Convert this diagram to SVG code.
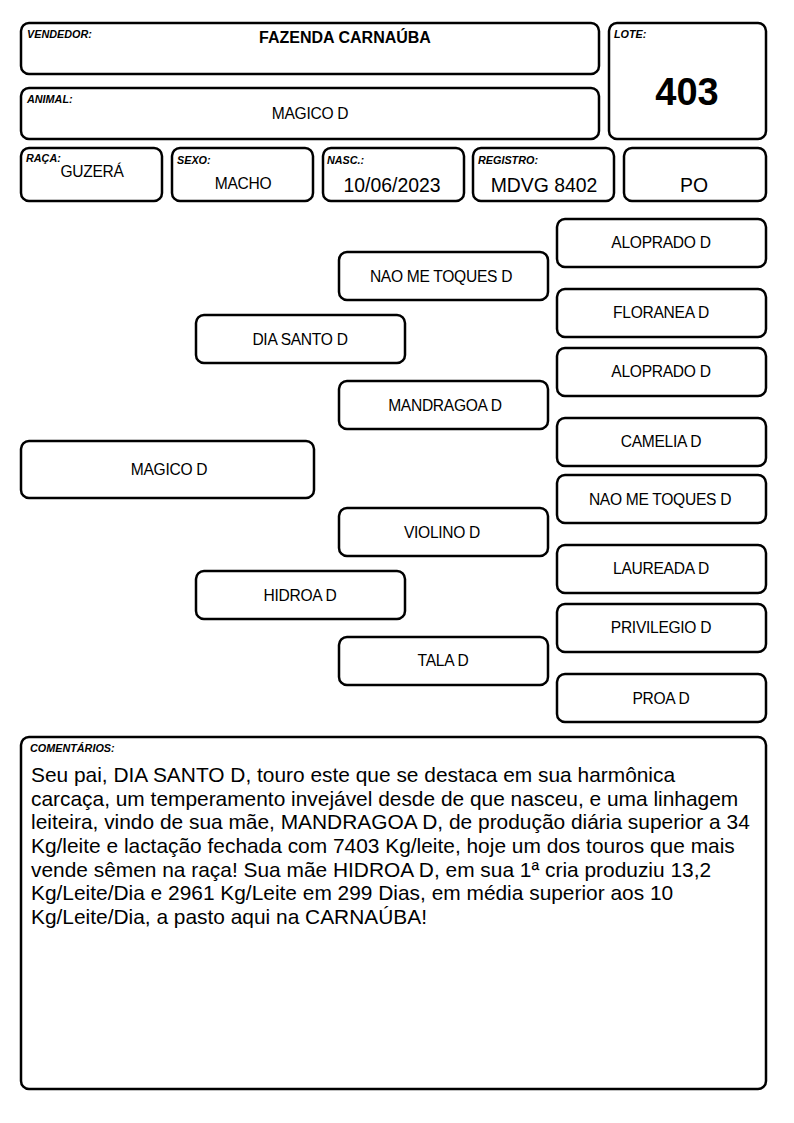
<svg xmlns="http://www.w3.org/2000/svg" width="794" height="1123" viewBox="0 0 794 1123">
<style>
.b{fill:#fff;stroke:#000;stroke-width:2.5}
.lbl{font-family:"Liberation Sans",Arial,sans-serif;font-size:10.8px;font-weight:bold;font-style:italic}
.t{font-family:"Liberation Sans",Arial,sans-serif;font-size:15.6px;text-anchor:middle;letter-spacing:-0.3px}
.v{font-family:"Liberation Sans",Arial,sans-serif;font-size:19.4px;text-anchor:middle}
.c{font-family:"Liberation Sans",Arial,sans-serif;font-size:20.9px}
</style>
<rect width="794" height="1123" fill="#fff"/>
<g id="vendedor"><rect class="b" x="21" y="23" width="578" height="51" rx="8"/><text class="lbl" x="27" y="38">VENDEDOR:</text><text x="345" y="43" font-family="Liberation Sans,Arial,sans-serif" font-size="16" font-weight="bold" text-anchor="middle">FAZENDA CARNAÚBA</text></g>
<g id="animal"><rect class="b" x="21" y="88" width="578" height="51" rx="8"/><text class="lbl" x="27" y="103">ANIMAL:</text><text class="t" x="310" y="119">MAGICO D</text></g>
<g id="lote"><rect class="b" x="609" y="23" width="157" height="116" rx="8"/><text class="lbl" x="614" y="38">LOTE:</text><text x="687" y="105" font-family="Liberation Sans,Arial,sans-serif" font-size="38" font-weight="bold" text-anchor="middle">403</text></g>
<g id="raca"><rect class="b" x="21" y="148" width="141" height="53" rx="8"/><text class="lbl" x="26" y="162">RAÇA:</text><text class="t" x="92" y="177">GUZERÁ</text></g>
<g id="sexo"><rect class="b" x="172" y="148" width="141" height="53" rx="8"/><text class="lbl" x="177" y="164">SEXO:</text><text class="t" x="243" y="189" font-size="14">MACHO</text></g>
<g id="nasc"><rect class="b" x="323" y="148" width="141" height="53" rx="8"/><text class="lbl" x="327" y="164">NASC.:</text><text class="v" x="392" y="192">10/06/2023</text></g>
<g id="registro"><rect class="b" x="473" y="148" width="141" height="53" rx="8"/><text class="lbl" x="478" y="164">REGISTRO:</text><text class="v" x="544" y="192">MDVG 8402</text></g>
<g id="po"><rect class="b" x="624" y="148" width="142" height="53" rx="8"/><text class="v" x="694" y="192">PO</text></g>
<g id="connectors"></g>
<g id="n-magico"><rect class="b" x="21" y="441" width="293" height="57" rx="8"/><text class="t" x="169" y="475">MAGICO D</text></g>
<g id="n-diasanto"><rect class="b" x="196" y="315" width="209" height="48" rx="8"/><text class="t" x="300" y="345">DIA SANTO D</text></g>
<g id="n-hidroa"><rect class="b" x="196" y="571" width="209" height="48" rx="8"/><text class="t" x="300" y="601">HIDROA D</text></g>
<g id="n-naome1"><rect class="b" x="339" y="252" width="209" height="48" rx="8"/><text class="t" x="441" y="282">NAO ME TOQUES D</text></g>
<g id="n-mandragoa"><rect class="b" x="339" y="381" width="209" height="48" rx="8"/><text class="t" x="445" y="411">MANDRAGOA D</text></g>
<g id="n-violino"><rect class="b" x="339" y="508" width="209" height="48" rx="8"/><text class="t" x="442" y="538">VIOLINO D</text></g>
<g id="n-tala"><rect class="b" x="339" y="637" width="209" height="48" rx="8"/><text class="t" x="443" y="666">TALA D</text></g>
<g id="n-aloprado1"><rect class="b" x="557" y="219" width="209" height="48" rx="8"/><text class="t" x="661" y="248">ALOPRADO D</text></g>
<g id="n-floranea"><rect class="b" x="557" y="289" width="209" height="48" rx="8"/><text class="t" x="661" y="318">FLORANEA D</text></g>
<g id="n-aloprado2"><rect class="b" x="557" y="348" width="209" height="48" rx="8"/><text class="t" x="661" y="377">ALOPRADO D</text></g>
<g id="n-camelia"><rect class="b" x="557" y="418" width="209" height="48" rx="8"/><text class="t" x="661" y="447">CAMELIA D</text></g>
<g id="n-naome2"><rect class="b" x="557" y="475" width="209" height="48" rx="8"/><text class="t" x="660" y="505">NAO ME TOQUES D</text></g>
<g id="n-laureada"><rect class="b" x="557" y="545" width="209" height="48" rx="8"/><text class="t" x="661" y="574">LAUREADA D</text></g>
<g id="n-privilegio"><rect class="b" x="557" y="604" width="209" height="48" rx="8"/><text class="t" x="661" y="633">PRIVILEGIO D</text></g>
<g id="n-proa"><rect class="b" x="557" y="674" width="209" height="48" rx="8"/><text class="t" x="661" y="704">PROA D</text></g>
<g id="comentarios"><rect class="b" x="21" y="737" width="745" height="352" rx="8"/><text class="lbl" x="30" y="752">COMENTÁRIOS:</text>
<text class="c" x="31" y="782">Seu pai, DIA SANTO D, touro este que se destaca em sua harmônica</text>
<text class="c" x="31" y="806">carcaça, um temperamento invejável desde de que nasceu, e uma linhagem</text>
<text class="c" x="31" y="829">leiteira, vindo de sua mãe, MANDRAGOA D, de produção diária superior a 34</text>
<text class="c" x="31" y="853">Kg/leite e lactação fechada com 7403 Kg/leite, hoje um dos touros que mais</text>
<text class="c" x="31" y="877">vende sêmen na raça! Sua mãe HIDROA D, em sua 1ª cria produziu 13,2</text>
<text class="c" x="31" y="900">Kg/Leite/Dia e 2961 Kg/Leite em 299 Dias, em média superior aos 10</text>
<text class="c" x="31" y="924">Kg/Leite/Dia, a pasto aqui na CARNAÚBA!</text>
</g>
</svg>
